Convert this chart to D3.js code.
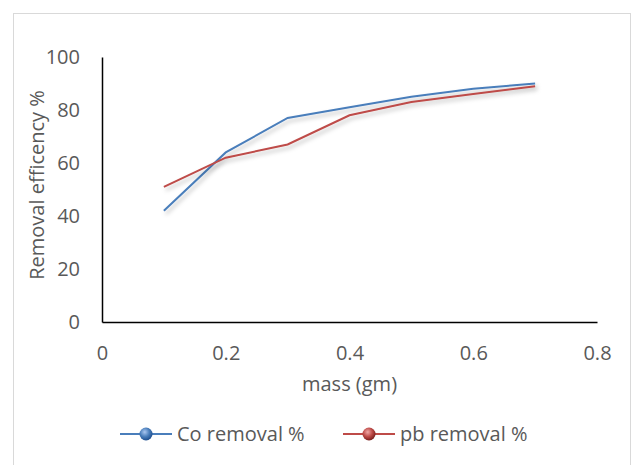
<!DOCTYPE html>
<html>
<head>
<meta charset="utf-8">
<script src="https://cdn.jsdelivr.net/npm/d3@7"></script>
<style>
  html, body { margin: 0; padding: 0; background: #fff; }
  svg { display: block; }
  text { font-family: "Open Sans", sans-serif; fill: #595959; }
</style>
</head>
<body>
<div id="chart"></div>
<script>
// Data
var mass = [0.1, 0.2, 0.3, 0.4, 0.5, 0.6, 0.7];
var coRemoval = [42, 64, 77, 81, 85, 88, 90];
var pbRemoval = [51, 62, 67, 78, 83, 86, 89];
var seriesNames = ["Co removal %", "pb removal %"];
var xTicks = [0, 0.2, 0.4, 0.6, 0.8];
var yTicks = [0, 20, 40, 60, 80, 100];

// Layout
var width = 632, height = 465;
var colors = ["#4a7ebb", "#be4b48"];
var fontSize = "20px";

var svg = d3.select("#chart").append("svg")
    .attr("width", width)
    .attr("height", height);

var defs = svg.append("defs");

// soft shadow under the lines
var shadow = defs.append("filter")
    .attr("id", "shadow")
    .attr("x", "-10%").attr("y", "-10%")
    .attr("width", "130%").attr("height", "140%");
shadow.append("feDropShadow")
    .attr("dx", 2).attr("dy", 3)
    .attr("stdDeviation", 2)
    .attr("flood-color", "#000")
    .attr("flood-opacity", 0.25);

// sphere gradients for legend markers
var sphereStops = [
  ["#a9c6f0", "#4a7ebb", "#1f4f8f"],
  ["#f0a8a6", "#be4b48", "#7a1f1d"]
];
sphereStops.forEach(function(st, i) {
  var g = defs.append("radialGradient")
      .attr("id", "sphere" + i)
      .attr("cx", "40%").attr("cy", "35%").attr("r", "65%");
  g.append("stop").attr("offset", "0%").attr("stop-color", st[0]);
  g.append("stop").attr("offset", "55%").attr("stop-color", st[1]);
  g.append("stop").attr("offset", "100%").attr("stop-color", st[2]);
});

// chart border
svg.append("rect")
    .attr("x", 13.5).attr("y", 13.5)
    .attr("width", 617).attr("height", 470)
    .attr("fill", "none")
    .attr("stroke", "#d9d9d9")
    .attr("stroke-width", 1);

var x = d3.scaleLinear().domain([0, 0.8]).range([102, 597]);
var y = d3.scaleLinear().domain([0, 100]).range([322, 57]);

// x axis
var xAxis = svg.append("g")
    .attr("transform", "translate(0," + y(0) + ")")
    .call(d3.axisBottom(x).tickValues(xTicks).tickSize(0).tickPadding(24)
      .tickFormat(function(d) { return d === 0 ? "0" : d3.format(".1f")(d); }));
xAxis.select(".domain").attr("stroke", "#000").attr("stroke-width", 1.5);
xAxis.selectAll("text")
    .style("font-size", fontSize)
    .attr("fill", "#595959")
    .attr("dy", "0.71em");

// y axis
var yAxis = svg.append("g")
    .attr("transform", "translate(" + x(0) + ",0)")
    .call(d3.axisLeft(y).tickValues(yTicks).tickSize(0).tickPadding(22));
yAxis.select(".domain").attr("stroke", "#000").attr("stroke-width", 1.5);
yAxis.selectAll("text")
    .style("font-size", fontSize)
    .attr("fill", "#595959");

// axis titles
svg.append("text")
    .attr("x", (x(0) + x(0.8)) / 2)
    .attr("y", 391)
    .attr("text-anchor", "middle")
    .style("font-size", fontSize)
    .text("mass (gm)");

svg.append("text")
    .attr("transform", "translate(44,185) rotate(-90)")
    .attr("text-anchor", "middle")
    .style("font-size", fontSize)
    .text("Removal efficency %");

// lines
var line = d3.line()
    .x(function(d) { return x(d[0]); })
    .y(function(d) { return y(d[1]); });

[coRemoval, pbRemoval].forEach(function(vals, i) {
  svg.append("path")
      .datum(d3.zip(mass, vals))
      .attr("d", line)
      .attr("fill", "none")
      .attr("stroke", colors[i])
      .attr("stroke-width", 2)
      .attr("filter", "url(#shadow)");
});

// legend
var legendX = [120, 343];
var legend = svg.append("g");
seriesNames.forEach(function(name, i) {
  var g = legend.append("g").attr("transform", "translate(" + legendX[i] + ",434)");
  g.append("line")
      .attr("x1", 0).attr("x2", 52)
      .attr("stroke", colors[i])
      .attr("stroke-width", 2);
  g.append("circle")
      .attr("cx", 26).attr("cy", 0).attr("r", 6.5)
      .attr("fill", "url(#sphere" + i + ")");
  g.append("text")
      .attr("x", 57).attr("dy", "0.36em")
      .style("font-size", fontSize)
      .text(name);
});
</script>
</body>
</html>
